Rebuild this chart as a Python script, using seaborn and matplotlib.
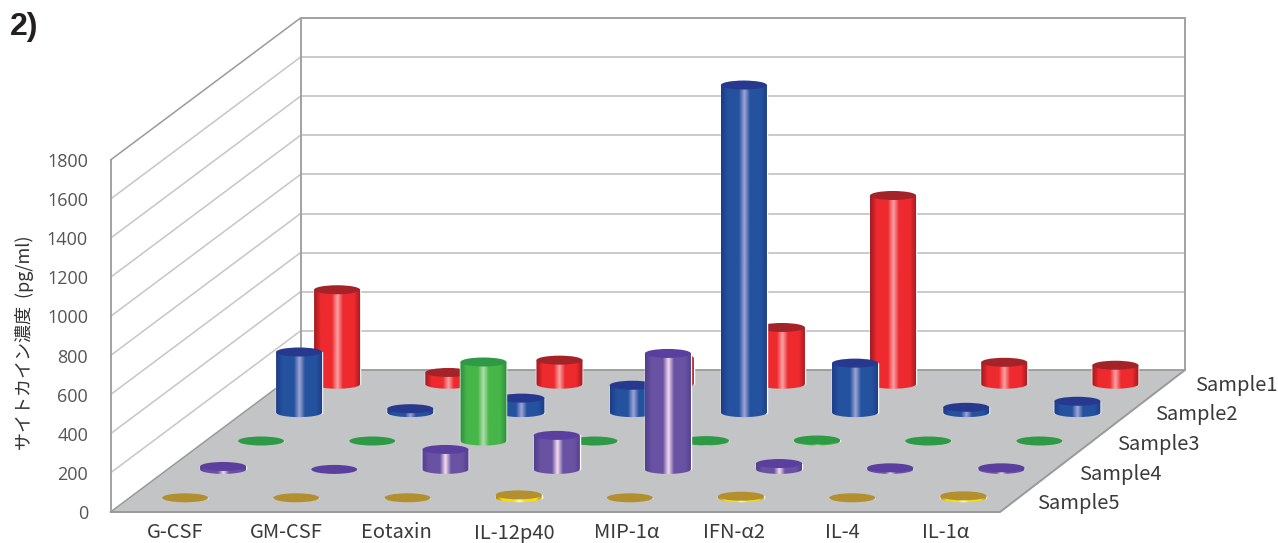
import numpy as np
import pandas as pd
import matplotlib
matplotlib.use("Agg")
import matplotlib.pyplot as plt
import seaborn as sns
from matplotlib.colors import LinearSegmentedColormap
from matplotlib.patches import Ellipse, Polygon
from matplotlib.path import Path

categories = ["G-CSF", "GM-CSF", "Eotaxin", "IL-12p40", "MIP-1α", "IFN-α2", "IL-4", "IL-1α"]
samples = ["Sample1", "Sample2", "Sample3", "Sample4", "Sample5"]

sample1 = [483, 60, 123, 135, 290, 965, 112, 97]
sample2 = [310, 20, 74, 140, 1675, 253, 27, 58]
sample3 = [0, 0, 404, 0, 2, 5, 0, 0]
sample4 = [15, 0, 102, 174, 593, 30, 8, 8]
sample5 = [0, 0, 0, 15, 0, 8, 0, 10]
values = [sample1, sample2, sample3, sample4, sample5]

y_ticks = [0, 200, 400, 600, 800, 1000, 1200, 1400, 1600, 1800]
label_x = [175, 286, 396, 514, 627, 734, 842, 946]
sample_label_x = [1195, 1155, 1117, 1079, 1037]

# dark edge, body, highlight, cap
styles = [
    ("#a01c22", "#ee2a2e", "#f9a5a8", "#a32329"),
    ("#1d3c88", "#24529f", "#a3a6d6", "#26398f"),
    ("#2f8d40", "#46b649", "#b5deaf", "#2e9a45"),
    ("#50408f", "#6a52a3", "#f6e0f2", "#5b3f9e"),
    ("#b8860b", "#f6dc10", "#fffbd0", "#b3902f"),
]

W, H = 1278, 543
PX = 352 / 1800  # pixels per pg/ml
DX, DY = 38, 28.4  # depth step
X0, Y0 = 110.5, 512
PLOT_W = 889.5
BACK_X, BACK_Y = 300.5, 370
RIGHT_X = 1185
PAD = 100
BAR_W = 0.414
CAP = 9 / PX  # ellipse height in data units

sns.set_theme(style="white")
plt.rcParams["font.family"] = ["Noto Sans CJK JP", "DejaVu Sans"]

fig = plt.figure(figsize=(W / 100, H / 100), dpi=100)

# walls and floor, in picture pixels
bg = fig.add_axes([0, 0, 1, 1])
bg.set_xlim(0, W)
bg.set_ylim(H, 0)
bg.set_axis_off()

bg.add_patch(Polygon([(X0, Y0), (X0 + PLOT_W, Y0), (RIGHT_X, BACK_Y), (BACK_X, BACK_Y)],
                     facecolor="#c3c4c6", edgecolor="none"))
for v in y_ticks:
    dy = v * PX
    c = "#c6c6c6" if v not in (0, 1800) else "#9a9a9a"
    bg.plot([X0, BACK_X], [Y0 - dy, BACK_Y - dy], color=c, lw=1.1)
    bg.plot([BACK_X, RIGHT_X], [BACK_Y - dy, BACK_Y - dy], color=c, lw=1.3)
top = 1800 * PX
bg.plot([X0, X0], [Y0, Y0 - top], color="#a2a2a2", lw=1.4)
bg.plot([BACK_X, BACK_X], [BACK_Y, BACK_Y - top], color="#a2a2a2", lw=1.4)
bg.plot([RIGHT_X, RIGHT_X], [BACK_Y, BACK_Y - top], color="#a2a2a2", lw=1.4)
bg.plot([X0, X0 + PLOT_W, RIGHT_X], [Y0, Y0, BACK_Y], color="#999999", lw=1.4)

for v in y_ticks:
    bg.text(88, Y0 + 2 - v * PX, str(v), ha="right", va="center", fontsize=13,
            family="Open Sans", color="#555555")
for name, x in zip(categories, label_x):
    bg.text(x, 533, name, ha="center", va="center", fontsize=14.5, color="#3a3a3a")
for i, (name, x) in enumerate(zip(samples, sample_label_x)):
    bg.text(x, 385 + 29.7 * i, name, ha="left", va="center", fontsize=14.5, color="#3a3a3a")
bg.text(25, 343, "サイトカイン濃度  (pg/ml)", rotation=90, ha="center", va="center",
        fontsize=13, color="#333333")
bg.text(10, 27, "2)", ha="left", va="center", fontsize=23, fontweight="bold",
        family="Liberation Sans", color="#231f20")

# one seaborn barplot per sample, back row first, each axes shifted along the depth
for i, name in enumerate(samples):
    d = len(samples) - 1 - i
    left = X0 + DX * (d + 0.5)
    base = Y0 - DY * (d + 0.5)
    ax = fig.add_axes([left / W, (H - base - PAD * PX) / H,
                       PLOT_W / W, (1800 + PAD) * PX / H])
    edge, body, light, cap = styles[i]
    df = pd.DataFrame({"cytokine": categories, "value": values[i]})
    sns.barplot(data=df, x="cytokine", y="value", order=categories, color=body,
                saturation=1, width=BAR_W, ax=ax)
    cmap = LinearSegmentedColormap.from_list(
        name, [(0, edge), (0.14, body), (0.38, body), (0.5, light), (0.62, body), (0.86, body), (1, edge)])
    grad = np.linspace(0, 1, 64).reshape(1, -1)
    for j, bar in enumerate(ax.patches):
        x0 = bar.get_x()
        w = bar.get_width()
        h = bar.get_height()
        xc = x0 + w / 2
        z = 3 + j * 0.1
        bar.set_zorder(z)
        if h > 0:
            t = np.linspace(np.pi, 2 * np.pi, 40)
            low = np.column_stack([xc + w / 2 * np.cos(t), CAP / 2 * np.sin(t)])
            verts = np.vstack([[[x0, h]], low, [[x0 + w, h]], [[x0, h]]])
            codes = [Path.MOVETO] + [Path.LINETO] * (len(verts) - 2) + [Path.CLOSEPOLY]
            im = ax.imshow(grad, extent=(x0, x0 + w, -CAP, h), aspect="auto", cmap=cmap,
                           interpolation="bilinear", zorder=z)
            im.set_clip_path(Path(verts, codes), transform=ax.transData)
        ax.add_patch(Ellipse((xc, h), w, CAP, facecolor=cap, edgecolor="none", zorder=z + 0.05))
    ax.set_xlim(-0.5, len(categories) - 0.5)
    ax.set_ylim(-PAD, 1800)
    ax.set_axis_off()

fig.savefig("out.png", dpi=100)
